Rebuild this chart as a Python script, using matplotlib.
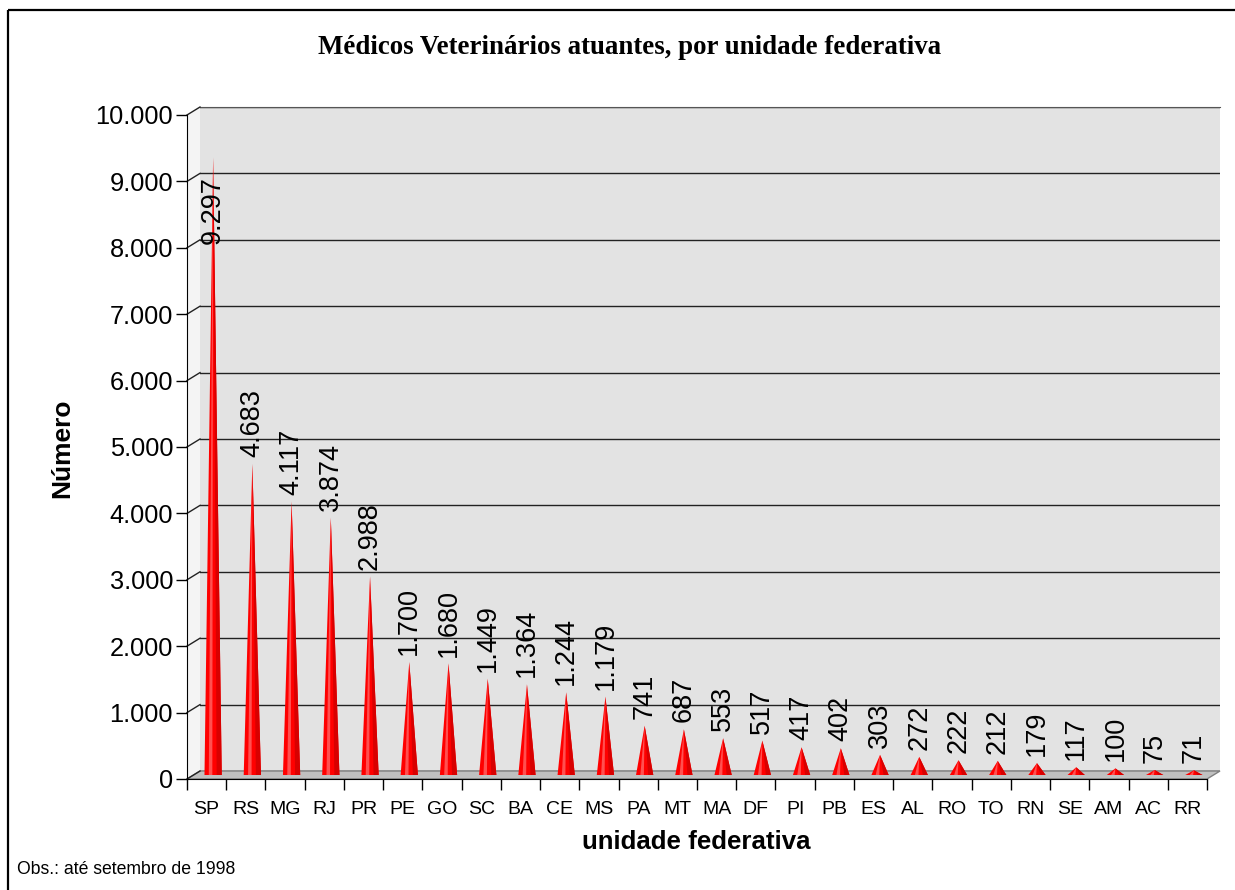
import numpy as np
import matplotlib
matplotlib.use("Agg")
import matplotlib.pyplot as plt
from matplotlib.patches import Polygon, Rectangle
from matplotlib.transforms import ScaledTranslation

plt.rcParams['font.family'] = ['Liberation Sans', 'DejaVu Sans']

# dados
estados = ['SP', 'RS', 'MG', 'RJ', 'PR', 'PE', 'GO', 'SC', 'BA', 'CE', 'MS', 'PA', 'MT',
           'MA', 'DF', 'PI', 'PB', 'ES', 'AL', 'RO', 'TO', 'RN', 'SE', 'AM', 'AC', 'RR']
medicos = [9297, 4683, 4117, 3874, 2988, 1700, 1680, 1449, 1364, 1244, 1179, 741, 687,
           553, 517, 417, 402, 303, 272, 222, 212, 179, 117, 100, 75, 71]
yticks = list(range(0, 10001, 1000))

W, H = 1235, 890
DX, DY = 13, 8   # profundidade do "3D" em pixels


def fmt(v):
    return f"{v:,}".replace(',', '.')


def fr(x, y):
    return x / W, 1 - y / H


fig = plt.figure(figsize=(W / 100, H / 100), dpi=100)
fig.patch.set_facecolor('white')

# parede de fundo
x0, y0 = 187, 779
pw, ph = 1020, 664
wall = fig.add_axes([(x0 + DX) / W, 1 - (y0 - DY) / H, pw / W, ph / H], zorder=0)
wall.set_facecolor('#e3e3e3')
wall.set_xlim(-0.5, len(estados) - 0.5)
wall.set_ylim(0, 10000)
wall.set_xticks([])
wall.set_yticks(yticks)
wall.tick_params(left=False, labelleft=False)
wall.grid(axis='y', color='#222222', lw=1.0)
for s in ['left', 'right', 'bottom']:
    wall.spines[s].set_visible(False)
wall.spines['top'].set_color('#555555')

# decoração (parede lateral, piso, moldura) em pixels
deco = fig.add_axes([0, 0, 1, 1], zorder=1)
deco.set_xlim(0, W)
deco.set_ylim(H, 0)
deco.axis('off')
deco.patch.set_alpha(0)
deco.add_patch(Polygon([(x0, y0), (x0, y0 - ph), (x0 + DX, y0 - ph - DY), (x0 + DX, y0 - DY)],
                       closed=True, fc='#f4f4f4', ec='none'))
for t in yticks:
    yy = y0 - t / 10000 * ph
    deco.plot([x0, x0 + DX], [yy, yy - DY], color='#222222', lw=1.0)
deco.add_patch(Polygon([(x0, y0), (x0 + DX, y0 - DY), (x0 + pw + DX, y0 - DY), (x0 + pw, y0)],
                       closed=True, fc='#c0c0c0', ec='#808080', lw=1.0))
deco.add_patch(Rectangle((8, 10), W, H, fill=False, ec='black', lw=1.6))

# eixos da frente
ax = fig.add_axes([x0 / W, 1 - y0 / H, pw / W, ph / H], zorder=2)
ax.patch.set_alpha(0)
n = len(estados)
ax.set_xlim(-0.5, n - 0.5)
ax.set_ylim(0, 10000)
ax.set_yticks(yticks)
ax.set_yticklabels([fmt(t) for t in yticks], fontsize=18.3)
ax.set_xticks(np.arange(n + 1) - 0.5)
ax.set_xticklabels([])
ax.set_xticks(np.arange(n), minor=True)
ax.set_xticklabels(estados, minor=True, fontsize=14)
ax.tick_params(axis='x', which='major', length=8, width=1, color='black')
ax.tick_params(axis='x', which='minor', length=0, pad=16)
ax.tick_params(axis='y', length=8, width=1, pad=2)
for s in ['top', 'right']:
    ax.spines[s].set_visible(False)

# cones deslocados até o meio da profundidade
off = ax.transData + ScaledTranslation(DX / 200, DY / 200, fig.dpi_scale_trans)
hw = 0.22
for i, v in enumerate(medicos):
    ax.fill([i - hw, i, i + hw], [0, v, 0], color='#ff0000', transform=off, lw=0)
    ax.fill([i - 0.11, i, i - 0.02], [0, v, 0], color='#ff5050', transform=off, lw=0)
    ax.fill([i + 0.09, i, i + hw], [0, v, 0], color='#d80000', transform=off, lw=0)
    if v > 8000:
        ax.annotate(fmt(v), xy=(i, v), xytext=(0, -13), textcoords='offset points',
                    xycoords=off, rotation=90, ha='center', va='top', fontsize=19.5)
    else:
        ax.annotate(fmt(v), xy=(i, v), xytext=(0, 5), textcoords='offset points',
                    xycoords=off, rotation=90, ha='center', va='bottom', fontsize=19.5)

# textos
fig.text(*fr(630, 47), 'Médicos Veterinários atuantes, por unidade federativa',
         family=['Liberation Serif', 'DejaVu Serif'], fontweight='bold', fontsize=19.4,
         ha='center', va='center')
fig.text(*fr(62, 448), 'Número', rotation=90, fontweight='bold', fontsize=19,
         ha='center', va='center')
fig.text(*fr(696, 842), 'unidade federativa', fontweight='bold', fontsize=18.6,
         ha='center', va='center')
fig.text(*fr(17, 870), 'Obs.: até setembro de 1998', fontsize=12.7, ha='left', va='center')

fig.savefig('out.png', dpi=100)
